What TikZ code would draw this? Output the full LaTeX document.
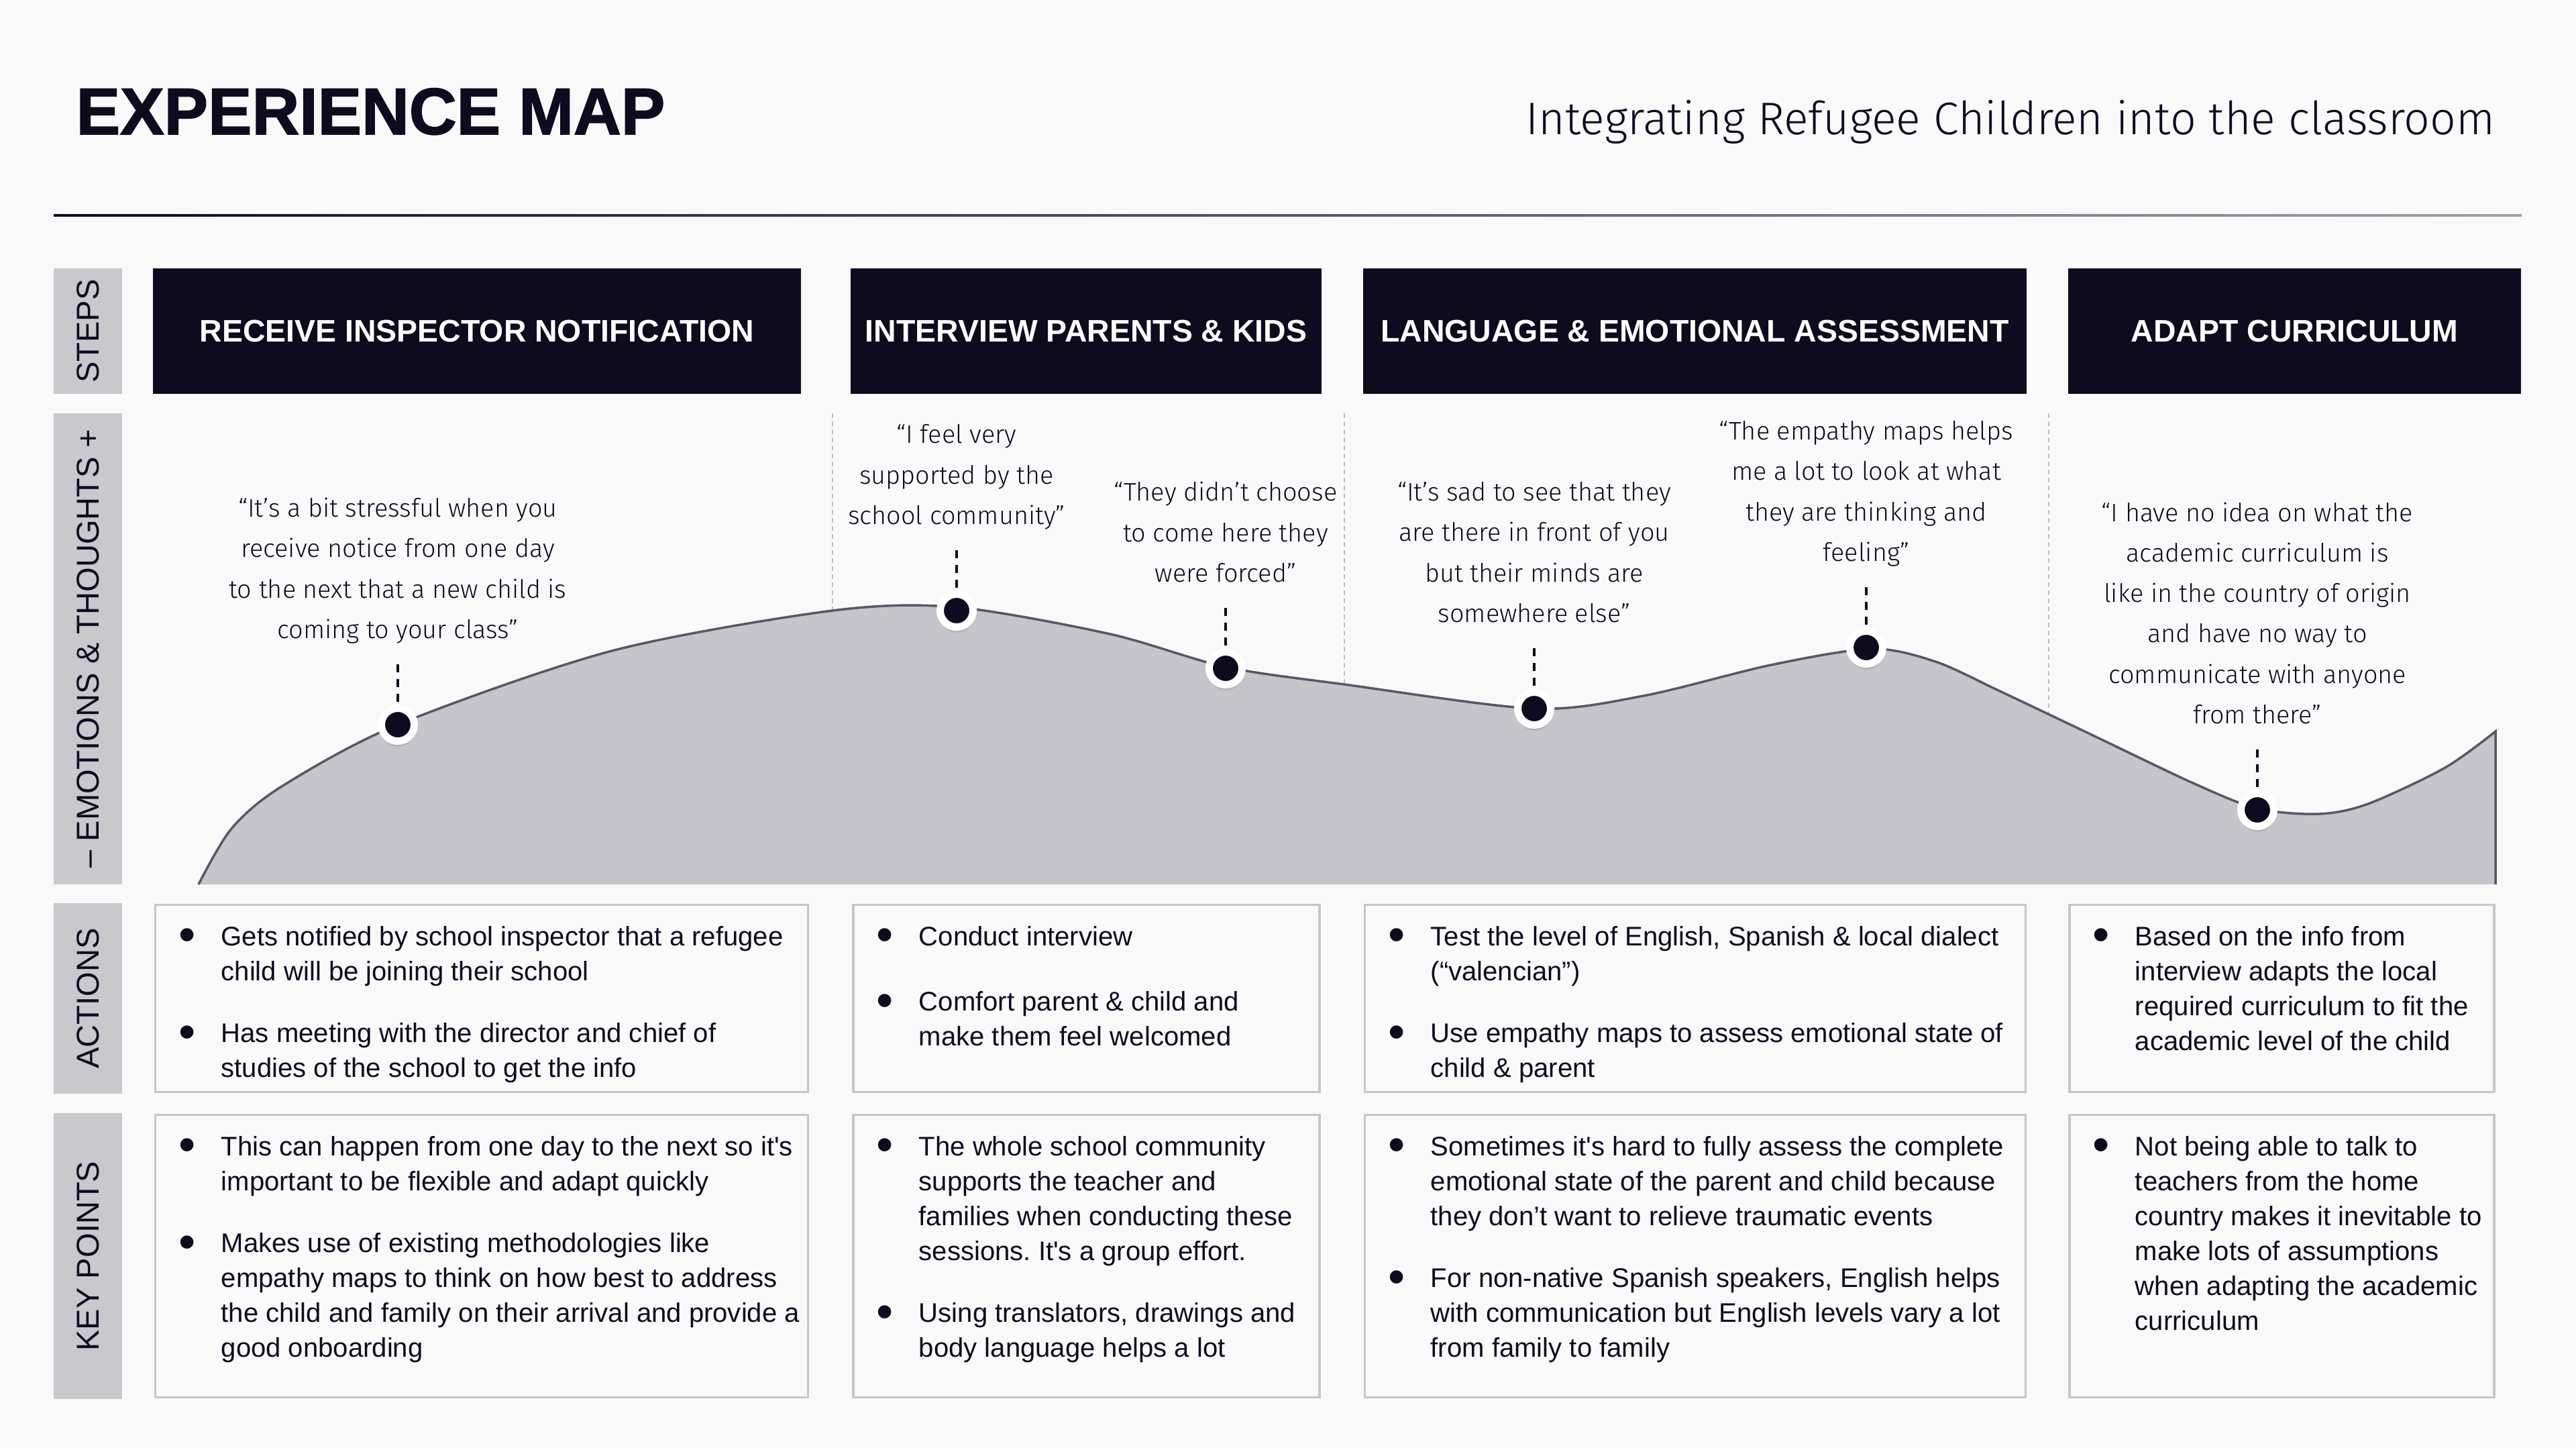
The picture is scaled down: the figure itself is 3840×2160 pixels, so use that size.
\documentclass[tikz,border=0pt]{standalone}
\usepackage{fontspec}
\usepackage{graphicx}
\setmainfont{Liberation Sans}
\newfontfamily\titlefont{Liberation Sans}[BoldFeatures={FakeBold=1.6}]
\newfontfamily\lightfont{Fira Sans Light}
\usetikzlibrary{positioning,shadows}
\definecolor{mapNavy}{RGB}{14,11,31}
\definecolor{labelGray}{RGB}{200,200,205}
\definecolor{waveFill}{RGB}{198,197,203}
\definecolor{waveLine}{RGB}{88,87,104}
\definecolor{boxBorder}{RGB}{198,198,202}
\definecolor{sepGray}{RGB}{190,190,195}
\definecolor{ruleGray}{RGB}{160,160,172}
\definecolor{pageBg}{RGB}{249,249,249}
\newcommand{\bp}{\makebox[0.58cm][l]{\hspace{-0.05cm}\raisebox{-0.085cm}{\scalebox{1.8}{\textbullet}}}}
\newcommand{\ind}{\hspace*{0.58cm}}

\begin{document}
\begin{tikzpicture}[x=0.01cm, y=-0.01cm,
    stepbox/.style={fill=mapNavy, text=white, minimum height=1.87cm, inner sep=0,
      font=\bfseries\fontsize{13.2}{16}\selectfont},
    rowlabel/.style={fill=labelGray, text=mapNavy, rotate=90, minimum height=1.02cm,
      inner sep=0, font=\fontsize{13.4}{16}\selectfont},
    infobox/.style={draw=boxBorder, line width=0.035cm, inner sep=0},
    pointtext/.style={anchor=north west, align=left, inner sep=0, text=mapNavy,
      font=\fontsize{11.4}{14.8}\selectfont\frenchspacing},
    quotetext/.style={align=center, inner sep=0, text depth=0.1cm, text=mapNavy,
      font=\lightfont\fontsize{10.75}{17.1}\selectfont},
    emodot/.style={circle, fill=mapNavy, draw=white, line width=0.11cm,
      minimum size=0.49cm, inner sep=0,
      circular drop shadow={shadow xshift=0cm, shadow yshift=-0.06cm, opacity=0.35}},
    quoteline/.style={draw=mapNavy, line width=0.04cm,
      dash pattern=on 0.12cm off 0.1cm, shorten <=0.28cm},
    coldivider/.style={draw=sepGray, line width=0.02cm, dash pattern=on 0.07cm off 0.05cm}]
  % Page
  \fill[pageBg] (0,0) rectangle (3840,2160);
  \node[anchor=base west, inner sep=0, text=mapNavy,
        font=\titlefont\bfseries\fontsize{27.9}{30}\selectfont] (title) at (113,200) {EXPERIENCE MAP};
  \node[anchor=base east, inner sep=0, text=mapNavy,
        font=\lightfont\fontsize{19.35}{22}\selectfont] (subtitle) at (3720,200)
    {Integrating Refugee Children into the classroom};
  \shade[left color=mapNavy, right color=ruleGray] (80,319) rectangle (3759,322);
  % Row labels
  \node[rowlabel, minimum width=1.87cm] (lsteps) at (131,493.5) {STEPS};
  \node[rowlabel, minimum width=7.02cm] (lemo) at (131,967) {– EMOTIONS \& THOUGHTS +};
  \node[rowlabel, minimum width=2.83cm] (lact) at (131,1488) {ACTIONS};
  \node[rowlabel, minimum width=4.26cm] (lkey) at (131,1872) {KEY POINTS};
  % Steps
  \node[stepbox, minimum width=9.66cm] (s1) at (711,493.5) {RECEIVE INSPECTOR NOTIFICATION};
  \node[stepbox, minimum width=7.02cm] (s2) at (1619,493.5) {INTERVIEW PARENTS \& KIDS};
  \node[stepbox, minimum width=9.89cm] (s3) at (2526.5,493.5) {LANGUAGE \& EMOTIONAL ASSESSMENT};
  \node[stepbox, minimum width=6.75cm] (s4) at (3420.5,493.5) {ADAPT CURRICULUM};
  % Column dividers
  \draw[coldivider] (1241,616) -- (1241,1000);
  \draw[coldivider] (2004,616) -- (2004,1100);
  \draw[coldivider] (3054,616) -- (3054,1150);
  % Emotion curve
  \fill[waveFill] plot[smooth] coordinates {(296,1318) (345,1235) (420,1172) (593,1080)
      (912,970) (1241,910) (1426,905) (1655,945) (1827,994) (2004,1020) (2287,1056)
      (2450,1037) (2640,991) (2790,967) (2885,986) (2979,1029) (3120,1096) (3269,1167)
      (3365,1205) (3457,1213) (3530,1198) (3645,1144) (3720,1090)}
      -- (3720,1318) -- (296,1318) -- cycle;
  \draw[waveLine, line width=0.035cm] plot[smooth] coordinates {(296,1318) (345,1235)
      (420,1172) (593,1080) (912,970) (1241,910) (1426,905) (1655,945) (1827,994)
      (2004,1020) (2287,1056) (2450,1037) (2640,991) (2790,967) (2885,986) (2979,1029)
      (3120,1096) (3269,1167) (3365,1205) (3457,1213) (3530,1198) (3645,1144) (3720,1090)}
      -- (3720,1318);
  % Emotion points
  \node[emodot] (m1) at (593,1080) {};
  \node[emodot] (m2) at (1426,910) {};
  \node[emodot] (m3) at (1827,996) {};
  \node[emodot] (m4) at (2287,1056) {};
  \node[emodot] (m5) at (2782,965) {};
  \node[emodot] (m6) at (3365,1207) {};
  % Quotes
  \node[quotetext, above=0.88cm of m1] (q1) {“It’s a bit stressful when you\\receive notice from one day\\to the next that a new child is\\coming to your class”};
  \node[quotetext, above=0.88cm of m2] (q2) {“I feel very\\supported by the\\school community”};
  \node[quotetext, above=0.88cm of m3] (q3) {“They didn’t choose\\to come here they\\were forced”};
  \node[quotetext, above=0.88cm of m4] (q4) {“It’s sad to see that they\\are there in front of you\\but their minds are\\somewhere else”};
  \node[quotetext, above=0.88cm of m5] (q5) {“The empathy maps helps\\me a lot to look at what\\they are thinking and\\feeling”};
  \node[quotetext, above=0.88cm of m6] (q6) {“I have no idea on what the\\academic curriculum is\\like in the country of origin\\and have no way to\\communicate with anyone\\from there”};
  \draw[quoteline] (q1) -- (m1);
  \draw[quoteline] (q2) -- (m2);
  \draw[quoteline] (q3) -- (m3);
  \draw[quoteline] (q4) -- (m4);
  \draw[quoteline] (q5) -- (m5);
  \draw[quoteline] (q6) -- (m6);
  % Actions
  \node[infobox, minimum width=9.72cm, minimum height=2.79cm] (a1) at (718,1488) {};
  \node[infobox, minimum width=6.95cm, minimum height=2.79cm] (a2) at (1619.5,1488) {};
  \node[infobox, minimum width=9.84cm, minimum height=2.79cm] (a3) at (2527,1488) {};
  \node[infobox, minimum width=6.33cm, minimum height=2.79cm] (a4) at (3401.5,1488) {};
  \node[pointtext] (a1t) at ([xshift=0.41cm, yshift=-0.33cm]a1.north west)
    {\bp Gets notified by school inspector that a refugee\\\ind child will be joining their school\\[0.4cm]
     \bp Has meeting with the director and chief of\\\ind studies of the school to get the info};
  \node[pointtext] (a2t) at ([xshift=0.41cm, yshift=-0.33cm]a2.north west)
    {\bp Conduct interview\\[0.45cm]
     \bp Comfort parent \& child and\\\ind make them feel welcomed};
  \node[pointtext] (a3t) at ([xshift=0.41cm, yshift=-0.33cm]a3.north west)
    {\bp Test the level of English, Spanish \& local dialect\\\ind (“valencian”)\\[0.4cm]
     \bp Use empathy maps to assess emotional state of\\\ind child \& parent};
  \node[pointtext] (a4t) at ([xshift=0.41cm, yshift=-0.33cm]a4.north west)
    {\bp Based on the info from\\\ind interview adapts the local\\\ind required curriculum to fit the\\\ind academic level of the child};
  % Key points
  \node[infobox, minimum width=9.72cm, minimum height=4.21cm] (k1) at (718,1872) {};
  \node[infobox, minimum width=6.95cm, minimum height=4.21cm] (k2) at (1619.5,1872) {};
  \node[infobox, minimum width=9.84cm, minimum height=4.21cm] (k3) at (2527,1872) {};
  \node[infobox, minimum width=6.33cm, minimum height=4.21cm] (k4) at (3401.5,1872) {};
  \node[pointtext] (k1t) at ([xshift=0.41cm, yshift=-0.33cm]k1.north west)
    {\bp This can happen from one day to the next so it\textquotesingle s\\\ind important to be flexible and adapt quickly\\[0.4cm]
     \bp Makes use of existing methodologies like\\\ind empathy maps to think on how best to address\\\ind the child and family on their arrival and provide a\\\ind good onboarding};
  \node[pointtext] (k2t) at ([xshift=0.41cm, yshift=-0.33cm]k2.north west)
    {\bp The whole school community\\\ind supports the teacher and\\\ind families when conducting these\\\ind sessions. It\textquotesingle s a group effort.\\[0.4cm]
     \bp Using translators, drawings and\\\ind body language helps a lot};
  \node[pointtext] (k3t) at ([xshift=0.41cm, yshift=-0.33cm]k3.north west)
    {\bp Sometimes it\textquotesingle s hard to fully assess the complete\\\ind emotional state of the parent and child because\\\ind they don’t want to relieve traumatic events\\[0.4cm]
     \bp For non-native Spanish speakers, English helps\\\ind with communication but English levels vary a lot\\\ind from family to family};
  \node[pointtext] (k4t) at ([xshift=0.41cm, yshift=-0.33cm]k4.north west)
    {\bp Not being able to talk to\\\ind teachers from the home\\\ind country makes it inevitable to\\\ind make lots of assumptions\\\ind when adapting the academic\\\ind curriculum};
\end{tikzpicture}
\end{document}
